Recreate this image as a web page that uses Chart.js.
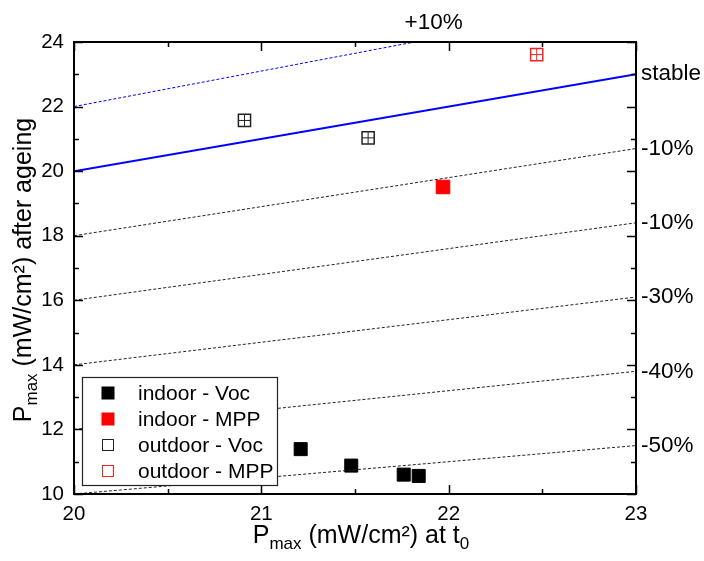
<!DOCTYPE html>
<html>
<head>
<meta charset="utf-8">
<script src="https://cdn.jsdelivr.net/npm/chart.js@4/dist/chart.umd.min.js"></script>
<style>
html,body{margin:0;padding:0;background:#fff;}
#c{display:block;}
</style>
</head>
<body>
<canvas id="c" width="704" height="561"></canvas>
<script>
// ---- data ----
const xTicks = [20, 21, 22, 23];
const yTicks = [10, 12, 14, 16, 18, 20, 22, 24];
const refFactors = [1.1, 1.0, 0.9, 0.8, 0.7, 0.6, 0.5];
const refLabels = ['+10%', 'stable', '-10%', '-10%', '-30%', '-40%', '-50%'];
const indoorVocX = [21.21, 21.48, 21.76, 21.84];
const indoorVocY = [11.39, 10.88, 10.60, 10.56];
const indoorMppX = [21.97];
const indoorMppY = [19.51];
const outdoorVocX = [20.91, 21.57];
const outdoorVocY = [21.57, 21.03];
const outdoorMppX = [22.47];
const outdoorMppY = [23.61];
const legendLabels = ['indoor - Voc', 'indoor - MPP', 'outdoor - Voc', 'outdoor - MPP'];

const FONT = '"Liberation Sans", Arial, sans-serif';
const pts = (xs, ys) => xs.map((x, i) => ({x: x, y: ys[i]}));

const datasets = [];
refFactors.forEach((f, i) => {
  const blue = f >= 1.0;
  datasets.push({
    type: 'line',
    data: [{x: xTicks[0], y: xTicks[0] * f}, {x: xTicks[xTicks.length - 1], y: xTicks[xTicks.length - 1] * f}],
    borderColor: blue ? '#0000ff' : '#222',
    borderWidth: f === 1.0 ? 2 : 1,
    borderDash: f === 1.0 ? [] : [3, 2],
    pointRadius: 0,
    fill: false
  });
});
function markerSet(xs, ys, style, color, filled, r, bw) {
  return {
    type: 'scatter',
    data: pts(xs, ys),
    pointStyle: style,
    pointRadius: r,
    pointHoverRadius: r,
    backgroundColor: filled ? color : 'rgba(0,0,0,0)',
    borderColor: color,
    borderWidth: bw
  };
}
datasets.push(markerSet(indoorVocX, indoorVocY, 'rect', '#000', true, 9.2, 1));
datasets.push(markerSet(indoorMppX, indoorMppY, 'rect', '#ff0000', true, 9.6, 1));
datasets.push(markerSet(outdoorVocX, outdoorVocY, 'rect', '#222', false, 8.6, 1.5));
datasets.push(markerSet(outdoorVocX, outdoorVocY, 'cross', '#222', false, 6, 1));
datasets.push(markerSet(outdoorMppX, outdoorMppY, 'rect', '#ff2020', false, 8.6, 1.5));
datasets.push(markerSet(outdoorMppX, outdoorMppY, 'cross', '#ff2020', false, 6, 1));

const decor = {
  id: 'decor',
  afterDraw(chart) {
    const ctx = chart.ctx;
    const xs = chart.scales.x, ys = chart.scales.y;
    const a = chart.chartArea;
    ctx.save();
    // frame
    ctx.strokeStyle = '#000';
    ctx.lineWidth = 2;
    ctx.strokeRect(a.left, a.top, a.right - a.left, a.bottom - a.top);
    // ticks (inward)
    ctx.lineWidth = 1.5;
    ctx.beginPath();
    for (let v = xTicks[0]; v <= xTicks[xTicks.length - 1] + 1e-9; v += 0.5) {
      const px = Math.round(xs.getPixelForValue(v)) + 0.5;
      const major = Math.abs(v - Math.round(v)) < 1e-6;
      const L = major ? 9 : 5;
      ctx.moveTo(px, a.bottom); ctx.lineTo(px, a.bottom - L);
      ctx.moveTo(px, a.top); ctx.lineTo(px, a.top + L);
    }
    for (let v = yTicks[0]; v <= yTicks[yTicks.length - 1] + 1e-9; v += 1) {
      const py = Math.round(ys.getPixelForValue(v)) + 0.5;
      const major = yTicks.indexOf(v) >= 0;
      const L = major ? 9 : 5;
      ctx.moveTo(a.left, py); ctx.lineTo(a.left + L, py);
      ctx.moveTo(a.right, py); ctx.lineTo(a.right - L, py);
    }
    ctx.stroke();
    // tick labels
    ctx.fillStyle = '#000';
    ctx.font = '20.5px ' + FONT;
    ctx.textAlign = 'center';
    ctx.textBaseline = 'middle';
    xTicks.forEach(v => ctx.fillText(String(v), xs.getPixelForValue(v), a.bottom + 20));
    ctx.textAlign = 'right';
    yTicks.forEach(v => ctx.fillText(String(v), a.left - 10, ys.getPixelForValue(v)));
    // right labels
    ctx.font = '22.5px ' + FONT;
    ctx.textAlign = 'left';
    const xEnd = xTicks[xTicks.length - 1];
    refFactors.forEach((f, i) => {
      const yv = xEnd * f;
      if (yv > ys.max) {
        const xHit = ys.max / f;
        ctx.textAlign = 'center';
        ctx.fillText(refLabels[i], xs.getPixelForValue(xHit) + 19, a.top - 19);
        ctx.textAlign = 'left';
      } else {
        ctx.fillText(refLabels[i], a.right + 5, ys.getPixelForValue(yv));
      }
    });
    // titles
    function drawTitle(parts, x, y) {
      let w = 0;
      parts.forEach(p => { ctx.font = (p[1] === 'n' ? '25px ' : '17px ') + FONT; w += ctx.measureText(p[0]).width; });
      let cx = x - w / 2;
      ctx.textAlign = 'left';
      ctx.textBaseline = 'alphabetic';
      parts.forEach(p => {
        ctx.font = (p[1] === 'n' ? '25px ' : '17px ') + FONT;
        ctx.fillText(p[0], cx, y + (p[1] === 's' ? 6 : 0));
        cx += ctx.measureText(p[0]).width;
      });
    }
    drawTitle([['P', 'n'], ['max', 's'], [' (mW/cm\u00B2) at t', 'n'], ['0', 's']], 361, a.bottom + 49);
    ctx.save();
    ctx.translate(31, 270);
    ctx.rotate(-Math.PI / 2);
    drawTitle([['P', 'n'], ['max', 's'], [' (mW/cm\u00B2) after ageing', 'n']], 0, 0);
    ctx.restore();
    // legend
    const lx = a.left + 8, ly = 377, lw = 195, lh = 108;
    ctx.fillStyle = '#fff';
    ctx.fillRect(lx, ly, lw, lh);
    ctx.strokeStyle = '#222';
    ctx.lineWidth = 1.2;
    ctx.strokeRect(lx + 0.5, ly + 0.5, lw, lh);
    const legendStyles = [
      ['#000', true], ['#ff0000', true], ['#222', false], ['#ff2020', false]
    ];
    ctx.font = '21px ' + FONT;
    ctx.textBaseline = 'middle';
    legendLabels.forEach((t, i) => {
      const cy = ly + 16 + i * 26;
      const mx = lx + 26;
      const [col, filled] = legendStyles[i];
      if (filled) {
        ctx.fillStyle = col;
        ctx.fillRect(mx - 6.5, cy - 6.5, 13, 13);
      } else {
        ctx.strokeStyle = col;
        ctx.lineWidth = 1;
        ctx.strokeRect(mx - 5.5, cy - 5.5, 11, 11);
      }
      ctx.fillStyle = '#000';
      ctx.textAlign = 'left';
      ctx.fillText(t, lx + 56, cy + 1);
    });
    ctx.restore();
  }
};

new Chart(document.getElementById('c'), {
  data: {datasets: datasets},
  options: {
    responsive: false,
    animation: false,
    layout: {padding: {left: 74, right: 68, top: 42, bottom: 67}},
    plugins: {legend: {display: false}, tooltip: {enabled: false}},
    scales: {
      x: {type: 'linear', min: 20, max: 23, display: false},
      y: {type: 'linear', min: 10, max: 24, display: false}
    }
  },
  plugins: [decor]
});
</script>
</body>
</html>
